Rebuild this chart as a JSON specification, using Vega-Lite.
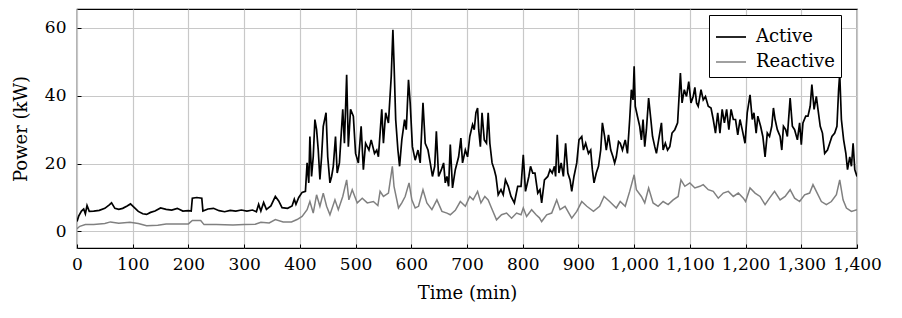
{
  "$schema": "https://vega.github.io/schema/vega-lite/v6.json",
  "width": 780,
  "height": 239,
  "autosize": {"type": "none"},
  "padding": {"left": 77, "top": 9, "right": 45, "bottom": 70},
  "background": "white",
  "config": {
    "font": "DejaVu Serif",
    "view": {"stroke": "black", "strokeWidth": 1.2},
    "axis": {
      "grid": true, "gridColor": "#c8c8c8", "gridWidth": 1.2, "domain": false,
      "tickColor": "black", "tickSize": -4, "tickWidth": 1, "labelOverlap": false, "labelFlush": false,
      "labelFont": "DejaVu Serif", "labelFontSize": 17, "labelColor": "black",
      "titleFont": "DejaVu Serif", "titleFontSize": 18, "titleFontWeight": "normal", "titleColor": "black"
    }
  },
  "data": {"values": [
    {"time":0,"series":"Active","power":2.9},{"time":3,"series":"Active","power":4.5},{"time":8,"series":"Active","power":6.0},{"time":12,"series":"Active","power":6.6},{"time":15,"series":"Active","power":5.2},{"time":18,"series":"Active","power":7.6},{"time":22,"series":"Active","power":5.9},{"time":30,"series":"Active","power":6.0},{"time":40,"series":"Active","power":6.2},{"time":50,"series":"Active","power":6.8},{"time":58,"series":"Active","power":7.8},{"time":62,"series":"Active","power":8.4},{"time":68,"series":"Active","power":6.8},{"time":75,"series":"Active","power":6.5},{"time":82,"series":"Active","power":6.8},{"time":90,"series":"Active","power":7.5},{"time":96,"series":"Active","power":8.1},{"time":103,"series":"Active","power":7.0},{"time":110,"series":"Active","power":5.9},{"time":118,"series":"Active","power":5.2},{"time":125,"series":"Active","power":5.0},{"time":132,"series":"Active","power":5.6},{"time":140,"series":"Active","power":6.0},{"time":150,"series":"Active","power":6.9},{"time":160,"series":"Active","power":6.5},{"time":170,"series":"Active","power":6.3},{"time":180,"series":"Active","power":6.8},{"time":190,"series":"Active","power":6.0},{"time":200,"series":"Active","power":6.1},{"time":205,"series":"Active","power":6.0},{"time":207,"series":"Active","power":9.8},{"time":215,"series":"Active","power":10.0},{"time":224,"series":"Active","power":9.8},{"time":226,"series":"Active","power":6.0},{"time":235,"series":"Active","power":6.6},{"time":245,"series":"Active","power":6.8},{"time":255,"series":"Active","power":6.1},{"time":265,"series":"Active","power":5.8},{"time":275,"series":"Active","power":6.2},{"time":285,"series":"Active","power":6.0},{"time":295,"series":"Active","power":6.3},{"time":305,"series":"Active","power":6.0},{"time":315,"series":"Active","power":6.3},{"time":322,"series":"Active","power":5.8},{"time":326,"series":"Active","power":8.0},{"time":330,"series":"Active","power":6.0},{"time":335,"series":"Active","power":8.5},{"time":340,"series":"Active","power":6.5},{"time":348,"series":"Active","power":7.5},{"time":356,"series":"Active","power":10.3},{"time":362,"series":"Active","power":9.0},{"time":368,"series":"Active","power":7.0},{"time":378,"series":"Active","power":6.8},{"time":386,"series":"Active","power":7.5},{"time":390,"series":"Active","power":9.5},{"time":393,"series":"Active","power":8.0},{"time":398,"series":"Active","power":10.0},{"time":404,"series":"Active","power":11.5},{"time":410,"series":"Active","power":11.8},{"time":413,"series":"Active","power":20.2},{"time":416,"series":"Active","power":14.3},{"time":418,"series":"Active","power":28},{"time":421,"series":"Active","power":16.2},{"time":424,"series":"Active","power":22},{"time":427,"series":"Active","power":33},{"time":430,"series":"Active","power":30},{"time":433,"series":"Active","power":24},{"time":436,"series":"Active","power":15.3},{"time":439,"series":"Active","power":22},{"time":442,"series":"Active","power":31},{"time":447,"series":"Active","power":35},{"time":450,"series":"Active","power":22},{"time":454,"series":"Active","power":14.3},{"time":457,"series":"Active","power":16.2},{"time":460,"series":"Active","power":19.2},{"time":464,"series":"Active","power":28},{"time":467,"series":"Active","power":17.2},{"time":471,"series":"Active","power":20.2},{"time":477,"series":"Active","power":36},{"time":480,"series":"Active","power":26},{"time":484,"series":"Active","power":46.2},{"time":487,"series":"Active","power":25},{"time":491,"series":"Active","power":36},{"time":496,"series":"Active","power":34},{"time":500,"series":"Active","power":23},{"time":505,"series":"Active","power":20.2},{"time":510,"series":"Active","power":31},{"time":514,"series":"Active","power":18.2},{"time":518,"series":"Active","power":26},{"time":524,"series":"Active","power":24},{"time":528,"series":"Active","power":27},{"time":534,"series":"Active","power":23},{"time":538,"series":"Active","power":24},{"time":541,"series":"Active","power":22},{"time":547,"series":"Active","power":36},{"time":550,"series":"Active","power":26},{"time":554,"series":"Active","power":35},{"time":559,"series":"Active","power":32},{"time":564,"series":"Active","power":45.7},{"time":567,"series":"Active","power":59.5},{"time":569,"series":"Active","power":49.7},{"time":572,"series":"Active","power":33},{"time":576,"series":"Active","power":24},{"time":579,"series":"Active","power":19.2},{"time":583,"series":"Active","power":27},{"time":588,"series":"Active","power":33},{"time":591,"series":"Active","power":30},{"time":595,"series":"Active","power":44.7},{"time":598,"series":"Active","power":37.9},{"time":602,"series":"Active","power":25},{"time":607,"series":"Active","power":21},{"time":612,"series":"Active","power":24},{"time":616,"series":"Active","power":20.2},{"time":621,"series":"Active","power":37.9},{"time":625,"series":"Active","power":26},{"time":630,"series":"Active","power":24},{"time":634,"series":"Active","power":20.2},{"time":638,"series":"Active","power":16.2},{"time":642,"series":"Active","power":19.2},{"time":645,"series":"Active","power":29.5},{"time":649,"series":"Active","power":16.2},{"time":654,"series":"Active","power":18.2},{"time":658,"series":"Active","power":20.2},{"time":661,"series":"Active","power":14.3},{"time":664,"series":"Active","power":16.2},{"time":667,"series":"Active","power":13.3},{"time":670,"series":"Active","power":25.6},{"time":674,"series":"Active","power":12.8},{"time":679,"series":"Active","power":18.2},{"time":685,"series":"Active","power":22},{"time":689,"series":"Active","power":27.5},{"time":692,"series":"Active","power":20.2},{"time":697,"series":"Active","power":24},{"time":701,"series":"Active","power":22},{"time":705,"series":"Active","power":28},{"time":710,"series":"Active","power":31.5},{"time":713,"series":"Active","power":30},{"time":716,"series":"Active","power":35},{"time":719,"series":"Active","power":36.4},{"time":721,"series":"Active","power":30},{"time":724,"series":"Active","power":25},{"time":727,"series":"Active","power":35},{"time":731,"series":"Active","power":27},{"time":735,"series":"Active","power":26},{"time":738,"series":"Active","power":35},{"time":741,"series":"Active","power":26},{"time":745,"series":"Active","power":20.2},{"time":749,"series":"Active","power":18.2},{"time":752,"series":"Active","power":16.2},{"time":756,"series":"Active","power":10.8},{"time":761,"series":"Active","power":12.3},{"time":765,"series":"Active","power":10.8},{"time":769,"series":"Active","power":15.2},{"time":774,"series":"Active","power":13.3},{"time":779,"series":"Active","power":10.3},{"time":785,"series":"Active","power":8.4},{"time":791,"series":"Active","power":13.3},{"time":797,"series":"Active","power":13.3},{"time":801,"series":"Active","power":22.6},{"time":805,"series":"Active","power":11.8},{"time":811,"series":"Active","power":16.2},{"time":814,"series":"Active","power":19.2},{"time":818,"series":"Active","power":17.2},{"time":822,"series":"Active","power":17.2},{"time":827,"series":"Active","power":11.3},{"time":831,"series":"Active","power":12.3},{"time":834,"series":"Active","power":8.4},{"time":839,"series":"Active","power":15.2},{"time":845,"series":"Active","power":16.2},{"time":849,"series":"Active","power":18.2},{"time":853,"series":"Active","power":17.2},{"time":857,"series":"Active","power":19.2},{"time":859,"series":"Active","power":16.2},{"time":862,"series":"Active","power":28.5},{"time":865,"series":"Active","power":17.2},{"time":869,"series":"Active","power":20.2},{"time":873,"series":"Active","power":16.2},{"time":877,"series":"Active","power":26},{"time":881,"series":"Active","power":17.2},{"time":885,"series":"Active","power":15.2},{"time":888,"series":"Active","power":11.8},{"time":892,"series":"Active","power":16.2},{"time":897,"series":"Active","power":20.2},{"time":901,"series":"Active","power":27},{"time":906,"series":"Active","power":28},{"time":909,"series":"Active","power":24},{"time":913,"series":"Active","power":26},{"time":918,"series":"Active","power":23},{"time":922,"series":"Active","power":24},{"time":925,"series":"Active","power":18.2},{"time":928,"series":"Active","power":14.3},{"time":932,"series":"Active","power":17.2},{"time":936,"series":"Active","power":19.2},{"time":940,"series":"Active","power":24},{"time":943,"series":"Active","power":32},{"time":947,"series":"Active","power":28},{"time":950,"series":"Active","power":24},{"time":954,"series":"Active","power":28.5},{"time":958,"series":"Active","power":24},{"time":962,"series":"Active","power":22},{"time":965,"series":"Active","power":20.2},{"time":968,"series":"Active","power":22},{"time":972,"series":"Active","power":26.5},{"time":975,"series":"Active","power":26},{"time":979,"series":"Active","power":24},{"time":984,"series":"Active","power":27},{"time":988,"series":"Active","power":23},{"time":992,"series":"Active","power":33},{"time":995,"series":"Active","power":41.8},{"time":998,"series":"Active","power":38.8},{"time":1000,"series":"Active","power":48.7},{"time":1002,"series":"Active","power":36.9},{"time":1006,"series":"Active","power":33.9},{"time":1010,"series":"Active","power":31},{"time":1013,"series":"Active","power":27},{"time":1016,"series":"Active","power":33},{"time":1019,"series":"Active","power":25},{"time":1022,"series":"Active","power":30},{"time":1026,"series":"Active","power":39.3},{"time":1030,"series":"Active","power":33},{"time":1033,"series":"Active","power":28},{"time":1037,"series":"Active","power":25},{"time":1040,"series":"Active","power":23},{"time":1044,"series":"Active","power":27},{"time":1049,"series":"Active","power":32},{"time":1052,"series":"Active","power":24},{"time":1056,"series":"Active","power":26},{"time":1060,"series":"Active","power":24},{"time":1064,"series":"Active","power":25},{"time":1068,"series":"Active","power":29},{"time":1073,"series":"Active","power":30},{"time":1078,"series":"Active","power":32},{"time":1081,"series":"Active","power":40.8},{"time":1083,"series":"Active","power":46.7},{"time":1086,"series":"Active","power":37.9},{"time":1090,"series":"Active","power":41.8},{"time":1094,"series":"Active","power":39.8},{"time":1098,"series":"Active","power":44.2},{"time":1102,"series":"Active","power":37.9},{"time":1106,"series":"Active","power":39.8},{"time":1109,"series":"Active","power":42.5},{"time":1112,"series":"Active","power":37.9},{"time":1115,"series":"Active","power":36.9},{"time":1120,"series":"Active","power":41.8},{"time":1124,"series":"Active","power":38.8},{"time":1128,"series":"Active","power":39.8},{"time":1133,"series":"Active","power":36.9},{"time":1138,"series":"Active","power":36.4},{"time":1142,"series":"Active","power":33},{"time":1146,"series":"Active","power":29},{"time":1150,"series":"Active","power":35},{"time":1154,"series":"Active","power":29},{"time":1158,"series":"Active","power":36},{"time":1162,"series":"Active","power":32},{"time":1166,"series":"Active","power":36},{"time":1170,"series":"Active","power":30},{"time":1174,"series":"Active","power":36},{"time":1178,"series":"Active","power":33},{"time":1182,"series":"Active","power":33},{"time":1186,"series":"Active","power":28.5},{"time":1190,"series":"Active","power":33},{"time":1194,"series":"Active","power":30},{"time":1199,"series":"Active","power":26},{"time":1203,"series":"Active","power":35},{"time":1208,"series":"Active","power":40.3},{"time":1212,"series":"Active","power":33},{"time":1215,"series":"Active","power":35},{"time":1219,"series":"Active","power":29},{"time":1222,"series":"Active","power":34},{"time":1227,"series":"Active","power":31},{"time":1231,"series":"Active","power":28},{"time":1235,"series":"Active","power":22},{"time":1239,"series":"Active","power":29},{"time":1243,"series":"Active","power":28},{"time":1247,"series":"Active","power":31},{"time":1250,"series":"Active","power":36.4},{"time":1253,"series":"Active","power":33},{"time":1257,"series":"Active","power":30},{"time":1262,"series":"Active","power":28},{"time":1265,"series":"Active","power":24},{"time":1268,"series":"Active","power":31},{"time":1272,"series":"Active","power":30},{"time":1275,"series":"Active","power":28},{"time":1280,"series":"Active","power":39.3},{"time":1284,"series":"Active","power":31},{"time":1288,"series":"Active","power":30},{"time":1293,"series":"Active","power":27},{"time":1297,"series":"Active","power":32},{"time":1300,"series":"Active","power":25.6},{"time":1303,"series":"Active","power":32},{"time":1308,"series":"Active","power":34},{"time":1312,"series":"Active","power":34},{"time":1316,"series":"Active","power":36.9},{"time":1319,"series":"Active","power":43.3},{"time":1323,"series":"Active","power":36},{"time":1327,"series":"Active","power":39.8},{"time":1330,"series":"Active","power":36},{"time":1334,"series":"Active","power":31},{"time":1338,"series":"Active","power":29},{"time":1342,"series":"Active","power":23},{"time":1347,"series":"Active","power":24},{"time":1351,"series":"Active","power":26},{"time":1355,"series":"Active","power":28},{"time":1360,"series":"Active","power":29},{"time":1364,"series":"Active","power":31},{"time":1367,"series":"Active","power":41.8},{"time":1369,"series":"Active","power":46.5},{"time":1372,"series":"Active","power":33},{"time":1376,"series":"Active","power":27},{"time":1380,"series":"Active","power":23},{"time":1383,"series":"Active","power":18.2},{"time":1387,"series":"Active","power":22},{"time":1390,"series":"Active","power":19.2},{"time":1393,"series":"Active","power":26},{"time":1396,"series":"Active","power":18.2},{"time":1400,"series":"Active","power":16.2},
    {"time":0,"series":"Reactive","power":0.8},{"time":5,"series":"Reactive","power":1.5},{"time":15,"series":"Reactive","power":2.0},{"time":30,"series":"Reactive","power":2.0},{"time":50,"series":"Reactive","power":2.3},{"time":60,"series":"Reactive","power":2.8},{"time":75,"series":"Reactive","power":2.4},{"time":95,"series":"Reactive","power":2.7},{"time":110,"series":"Reactive","power":2.3},{"time":125,"series":"Reactive","power":1.7},{"time":145,"series":"Reactive","power":1.8},{"time":160,"series":"Reactive","power":2.2},{"time":180,"series":"Reactive","power":2.2},{"time":200,"series":"Reactive","power":2.2},{"time":207,"series":"Reactive","power":3.2},{"time":222,"series":"Reactive","power":3.2},{"time":228,"series":"Reactive","power":2.0},{"time":250,"series":"Reactive","power":2.0},{"time":280,"series":"Reactive","power":1.9},{"time":300,"series":"Reactive","power":2.0},{"time":320,"series":"Reactive","power":2.1},{"time":330,"series":"Reactive","power":2.7},{"time":345,"series":"Reactive","power":2.5},{"time":356,"series":"Reactive","power":3.5},{"time":370,"series":"Reactive","power":2.8},{"time":385,"series":"Reactive","power":2.8},{"time":395,"series":"Reactive","power":3.5},{"time":404,"series":"Reactive","power":4.4},{"time":413,"series":"Reactive","power":6.4},{"time":418,"series":"Reactive","power":8.8},{"time":424,"series":"Reactive","power":5.4},{"time":430,"series":"Reactive","power":10.8},{"time":436,"series":"Reactive","power":7.4},{"time":442,"series":"Reactive","power":11.3},{"time":448,"series":"Reactive","power":7.4},{"time":454,"series":"Reactive","power":4.9},{"time":463,"series":"Reactive","power":9.3},{"time":469,"series":"Reactive","power":6.4},{"time":477,"series":"Reactive","power":10.3},{"time":484,"series":"Reactive","power":15.2},{"time":488,"series":"Reactive","power":9.3},{"time":494,"series":"Reactive","power":12.3},{"time":503,"series":"Reactive","power":8.4},{"time":512,"series":"Reactive","power":9.8},{"time":521,"series":"Reactive","power":8.4},{"time":532,"series":"Reactive","power":8.8},{"time":540,"series":"Reactive","power":7.6},{"time":544,"series":"Reactive","power":11.8},{"time":550,"series":"Reactive","power":10.3},{"time":559,"series":"Reactive","power":11.3},{"time":566,"series":"Reactive","power":19.2},{"time":569,"series":"Reactive","power":13.3},{"time":577,"series":"Reactive","power":6.9},{"time":583,"series":"Reactive","power":8.4},{"time":589,"series":"Reactive","power":10.3},{"time":596,"series":"Reactive","power":14.3},{"time":601,"series":"Reactive","power":9.3},{"time":607,"series":"Reactive","power":6.9},{"time":613,"series":"Reactive","power":7.4},{"time":621,"series":"Reactive","power":12.3},{"time":628,"series":"Reactive","power":8.4},{"time":637,"series":"Reactive","power":6.4},{"time":646,"series":"Reactive","power":9.3},{"time":655,"series":"Reactive","power":5.9},{"time":664,"series":"Reactive","power":5.4},{"time":670,"series":"Reactive","power":4.9},{"time":679,"series":"Reactive","power":6.2},{"time":688,"series":"Reactive","power":8.8},{"time":697,"series":"Reactive","power":7.4},{"time":705,"series":"Reactive","power":10.3},{"time":711,"series":"Reactive","power":9.3},{"time":719,"series":"Reactive","power":11.8},{"time":725,"series":"Reactive","power":8.4},{"time":732,"series":"Reactive","power":10.3},{"time":738,"series":"Reactive","power":9.3},{"time":744,"series":"Reactive","power":6.9},{"time":753,"series":"Reactive","power":3.4},{"time":762,"series":"Reactive","power":4.9},{"time":771,"series":"Reactive","power":5.4},{"time":780,"series":"Reactive","power":3.9},{"time":789,"series":"Reactive","power":5.4},{"time":797,"series":"Reactive","power":4.9},{"time":801,"series":"Reactive","power":6.9},{"time":807,"series":"Reactive","power":4.4},{"time":816,"series":"Reactive","power":6.4},{"time":824,"series":"Reactive","power":4.9},{"time":830,"series":"Reactive","power":4.0},{"time":834,"series":"Reactive","power":2.9},{"time":843,"series":"Reactive","power":4.9},{"time":852,"series":"Reactive","power":5.4},{"time":861,"series":"Reactive","power":9.3},{"time":867,"series":"Reactive","power":6.4},{"time":876,"series":"Reactive","power":7.4},{"time":888,"series":"Reactive","power":3.9},{"time":897,"series":"Reactive","power":5.9},{"time":906,"series":"Reactive","power":8.8},{"time":915,"series":"Reactive","power":7.4},{"time":927,"series":"Reactive","power":5.9},{"time":938,"series":"Reactive","power":7.4},{"time":946,"series":"Reactive","power":10.3},{"time":956,"series":"Reactive","power":8.8},{"time":968,"series":"Reactive","power":6.9},{"time":975,"series":"Reactive","power":8.8},{"time":984,"series":"Reactive","power":7.4},{"time":992,"series":"Reactive","power":11.8},{"time":1000,"series":"Reactive","power":16.7},{"time":1004,"series":"Reactive","power":12.3},{"time":1013,"series":"Reactive","power":10.3},{"time":1019,"series":"Reactive","power":8.4},{"time":1026,"series":"Reactive","power":12.8},{"time":1034,"series":"Reactive","power":8.4},{"time":1043,"series":"Reactive","power":7.4},{"time":1052,"series":"Reactive","power":8.8},{"time":1061,"series":"Reactive","power":7.9},{"time":1070,"series":"Reactive","power":9.3},{"time":1079,"series":"Reactive","power":10.3},{"time":1084,"series":"Reactive","power":15.2},{"time":1091,"series":"Reactive","power":13.3},{"time":1100,"series":"Reactive","power":14.3},{"time":1109,"series":"Reactive","power":12.8},{"time":1118,"series":"Reactive","power":13.3},{"time":1124,"series":"Reactive","power":13.8},{"time":1133,"series":"Reactive","power":12.3},{"time":1142,"series":"Reactive","power":11.8},{"time":1151,"series":"Reactive","power":9.8},{"time":1160,"series":"Reactive","power":11.3},{"time":1169,"series":"Reactive","power":11.8},{"time":1178,"series":"Reactive","power":10.3},{"time":1187,"series":"Reactive","power":11.3},{"time":1196,"series":"Reactive","power":9.8},{"time":1200,"series":"Reactive","power":8.8},{"time":1208,"series":"Reactive","power":12.8},{"time":1217,"series":"Reactive","power":11.3},{"time":1226,"series":"Reactive","power":10.3},{"time":1235,"series":"Reactive","power":7.9},{"time":1243,"series":"Reactive","power":9.8},{"time":1252,"series":"Reactive","power":11.8},{"time":1262,"series":"Reactive","power":9.3},{"time":1271,"series":"Reactive","power":10.3},{"time":1280,"series":"Reactive","power":12.3},{"time":1288,"series":"Reactive","power":9.8},{"time":1297,"series":"Reactive","power":8.8},{"time":1306,"series":"Reactive","power":10.8},{"time":1315,"series":"Reactive","power":11.3},{"time":1321,"series":"Reactive","power":13.8},{"time":1327,"series":"Reactive","power":11.8},{"time":1336,"series":"Reactive","power":8.8},{"time":1345,"series":"Reactive","power":7.9},{"time":1354,"series":"Reactive","power":8.8},{"time":1363,"series":"Reactive","power":10.8},{"time":1369,"series":"Reactive","power":15.2},{"time":1375,"series":"Reactive","power":9.3},{"time":1381,"series":"Reactive","power":6.9},{"time":1390,"series":"Reactive","power":5.9},{"time":1400,"series":"Reactive","power":6.4}
  ]},
  "mark": {"type": "line", "clip": true},
  "encoding": {
    "x": {
      "field": "time", "type": "quantitative",
      "scale": {"domain": [0, 1400], "nice": false},
      "axis": {"values": [0,100,200,300,400,500,600,700,800,900,1000,1100,1200,1300,1400], "format": ",d", "title": "Time (min)", "labelPadding": 12, "titlePadding": 12}
    },
    "y": {
      "field": "power", "type": "quantitative",
      "scale": {"domain": [-4.9, 65.6], "nice": false, "zero": false},
      "axis": {"values": [0, 20, 40, 60], "title": "Power (kW)", "labelPadding": 15, "titlePadding": 14}
    },
    "strokeWidth": {
      "field": "series", "type": "nominal",
      "scale": {"domain": ["Active", "Reactive"], "range": [1.7, 1.5]},
      "legend": null
    },
    "color": {
      "field": "series", "type": "nominal",
      "scale": {"domain": ["Active", "Reactive"], "range": ["black", "#808080"]},
      "legend": {
        "title": null, "orient": "none", "legendX": 632, "legendY": 6,
        "symbolType": "stroke", "symbolSize": 900, "symbolStrokeWidth": 1.5,
        "labelFont": "DejaVu Serif", "labelFontSize": 18, "labelColor": "black",
        "padding": 6, "rowPadding": -4, "labelOffset": 9,
        "strokeColor": "black", "fillColor": "white"
      }
    }
  }
}
